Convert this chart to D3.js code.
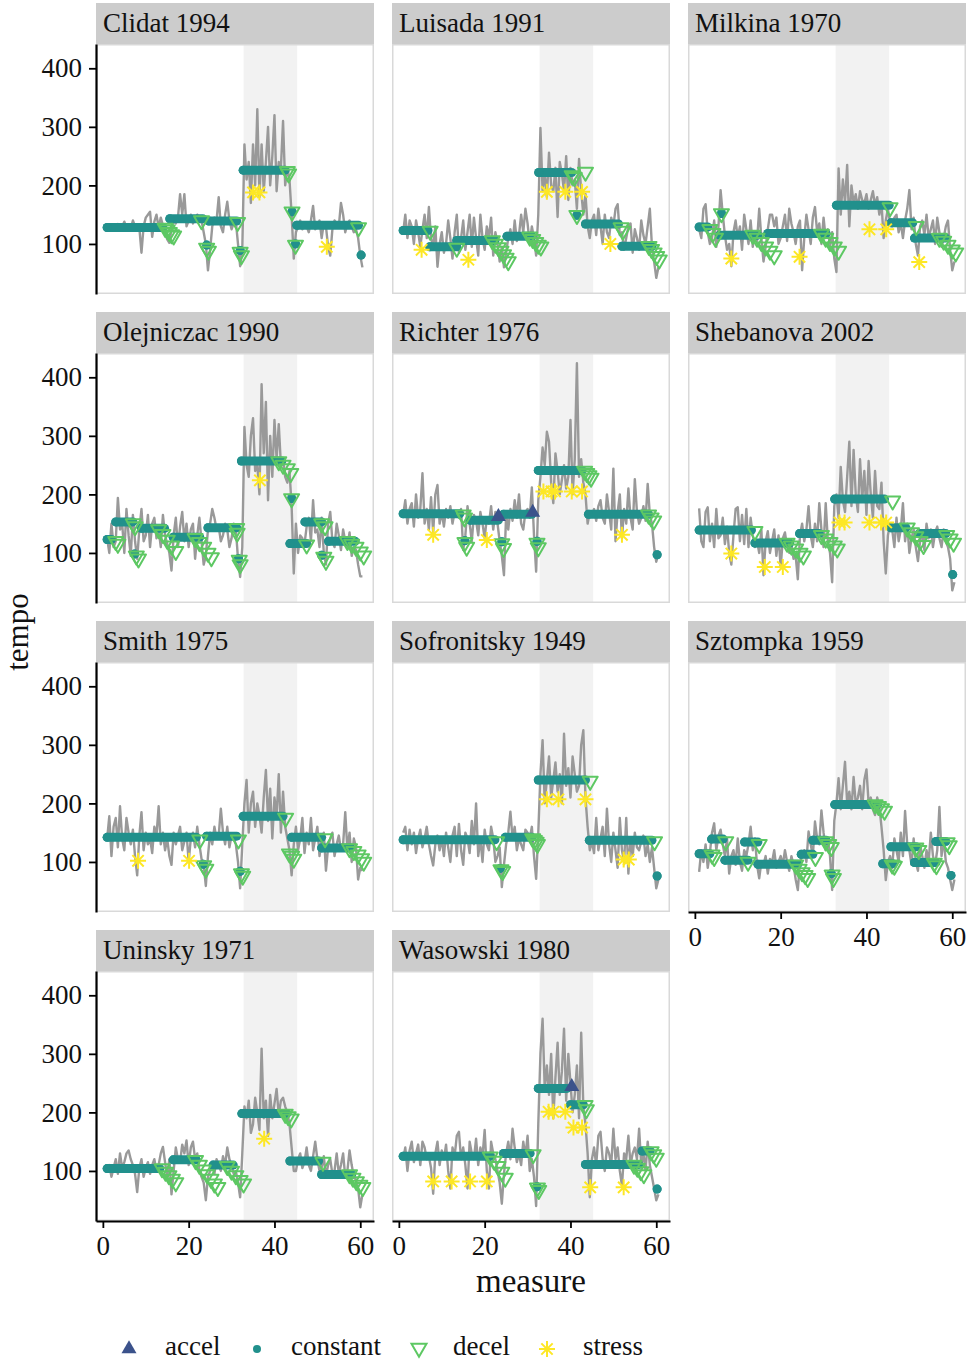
<!DOCTYPE html>
<html><head><meta charset="utf-8">
<script src="https://cdn.jsdelivr.net/npm/d3@7"></script>
<style>body{margin:0;background:#fff}svg{display:block}</style>
</head><body>
<svg id="c" width="970" height="1361"></svg>
<script>
// ---------- DATA ----------
const performers = ["Clidat 1994","Luisada 1991","Milkina 1970","Olejniczac 1990","Richter 1976","Shebanova 2002","Smith 1975","Sofronitsky 1949","Sztompka 1959","Uninsky 1971","Wasowski 1980"];
const stateLabels = ["accel","constant","decel","stress"];
const xTicks = [0,20,40,60];
const yTicks = [100,200,300,400];
const sectionBand = [32.8,45.3];
// note positions (measure), two per measure
const measures = d3.range(1, 60.75, 0.5);

// observed tempo, one array per performer (two values per measure, measures 1..60)
const tempoClidat = [128,130,126,132,128,134,125,130,138,128,132,126,140,130,125,128,85,130,145,150,
 155,112,138,150,128,145,132,118,108,102,125,140,135,145,185,150,185,130,140,150,
 135,142,150,138,140,120,100,55,90,130,145,140,180,130,120,150,172,140,125,135,
 138,100,62,90,270,210,240,170,270,200,330,180,270,190,240,300,200,250,320,190,
 240,230,310,200,230,210,150,75,120,130,140,125,135,130,120,140,165,125,130,140,
 110,135,130,95,80,125,140,135,130,170,150,120,135,140,130,120,125,110,80,60];
const tempoLuisada = [120,150,110,140,130,100,140,120,95,125,150,110,163,110,95,130,61,100,120,85,
 100,140,110,75,120,150,85,110,140,90,120,150,95,145,110,80,150,110,90,130,
 110,145,80,120,100,70,95,60,85,110,125,100,140,105,115,150,120,160,135,100,
 130,110,80,150,298,190,220,180,256,200,190,230,146,240,220,190,250,175,230,200,
 210,160,245,190,150,185,130,110,140,150,115,160,130,100,150,120,110,145,130,160,
 168,115,120,90,110,130,135,85,125,110,90,140,115,100,130,160,95,70,42,60];
const tempoMilkina = [125,110,160,168,120,100,110,140,95,130,192,150,115,90,100,62,120,140,110,130,
 90,150,125,100,140,95,120,105,160,110,70,95,125,150,150,130,145,100,110,130,
 150,105,160,135,120,100,130,140,55,110,150,125,100,145,163,120,135,100,145,110,
 125,95,120,75,52,229,150,210,170,235,130,200,170,185,160,190,175,170,185,160,
 175,190,165,180,150,170,110,140,160,135,130,145,150,120,135,110,140,160,192,125,
 145,100,80,130,140,115,150,110,125,140,100,145,120,95,110,130,140,90,55,70];
const tempoOlejniczac = [125,100,150,110,120,194,140,150,100,175,130,95,165,120,90,140,175,120,130,165,
 110,150,160,125,140,110,165,130,115,100,70,130,160,110,145,170,120,150,110,140,
 150,90,130,160,120,80,95,140,150,175,160,140,145,120,130,150,140,110,125,150,
 140,90,59,110,315,250,230,300,330,240,250,200,388,270,358,190,300,230,327,260,
 320,250,260,230,220,240,180,65,150,100,130,125,115,145,160,120,190,135,140,110,
 160,100,80,150,170,120,110,150,130,105,140,120,110,135,95,110,105,80,60,60];
const tempoRichter = [165,190,150,175,185,145,200,160,175,236,150,175,140,195,135,200,216,150,170,145,
 175,160,180,150,170,165,160,175,105,130,180,150,120,165,155,130,170,150,125,160,
 150,180,140,170,150,120,95,62,165,140,175,155,190,160,200,150,140,170,175,160,
 212,130,68,190,230,280,250,307,290,220,185,270,240,200,225,250,210,230,327,200,
 260,424,230,260,220,200,150,170,165,175,155,180,190,160,150,200,170,140,244,120,
 170,200,125,175,150,210,160,140,226,170,150,160,180,155,218,165,150,110,85,100];
const tempoShebanova = [176,120,110,170,178,120,150,110,175,125,130,160,115,145,100,80,130,175,178,120,
 165,115,175,110,160,130,110,120,100,140,62,120,137,100,120,140,95,130,75,125,
 135,110,100,115,90,95,55,130,150,120,140,180,130,110,150,120,185,140,110,185,
 120,100,50,180,200,160,247,190,170,230,290,180,276,200,170,260,190,240,165,257,
 200,160,240,180,175,220,120,65,130,150,140,110,160,120,140,185,120,150,100,125,
 140,110,86,120,135,105,150,125,140,110,135,145,125,110,140,120,110,90,36,50];
const tempoSmith = [140,178,110,160,175,125,195,140,120,175,150,130,155,110,77,145,185,120,150,130,
 140,115,160,145,195,130,150,120,140,110,95,150,130,145,160,120,135,150,100,140,
 150,125,160,130,105,95,59,110,150,130,160,140,145,191,150,130,160,125,145,140,
 130,100,55,130,200,240,150,200,220,160,200,180,150,210,257,170,225,140,210,180,
 250,150,220,160,140,120,77,130,160,120,140,175,115,150,130,175,120,140,160,110,
 140,150,85,125,140,150,110,130,145,120,130,185,120,150,100,140,125,70,90,85];
const tempoSofronitsky = [150,160,120,155,130,150,115,140,155,125,140,160,130,110,94,130,145,120,140,110,
 150,125,100,145,160,110,165,120,95,150,140,115,170,130,200,110,140,100,155,130,
 120,160,140,100,110,125,57,95,130,150,186,140,160,120,140,130,120,155,150,140,
 160,110,71,150,250,308,200,240,280,210,240,270,220,250,200,319,230,260,210,280,
 250,220,230,300,325,210,160,120,135,115,175,120,140,160,110,191,130,100,150,120,
 90,175,120,100,175,80,140,110,150,125,120,135,145,110,130,100,125,90,55,70];
const tempoSztompka = [83,120,100,130,90,115,150,166,120,145,155,130,110,140,80,110,120,95,140,100,
 85,120,110,130,160,120,140,95,72,100,95,110,80,105,100,120,90,100,110,95,
 120,100,85,110,95,70,52,100,110,120,100,152,130,110,169,140,130,188,150,120,
 140,110,52,170,200,243,190,230,271,200,220,190,245,200,210,230,190,240,258,200,
 210,190,180,210,195,160,120,69,100,110,90,140,120,100,150,110,187,130,120,95,
 140,100,85,130,110,90,120,100,150,110,95,120,194,110,140,100,90,70,52,70];
const tempoUninsky = [100,110,90,105,120,95,130,105,115,130,135,120,110,95,64,105,120,90,105,115,
 95,110,120,100,110,130,141,115,90,120,60,100,140,120,115,145,130,152,110,140,
 150,120,130,100,90,80,50,90,100,115,95,120,110,100,125,110,140,120,110,95,
 100,80,55,130,210,190,220,165,180,225,200,170,309,190,220,160,230,190,215,240,
 195,220,225,210,200,180,140,100,100,120,130,105,115,140,110,100,125,150,120,100,
 105,125,90,110,120,95,100,130,95,110,130,90,100,135,110,90,85,70,38,60];
const tempoWasowski = [120,140,100,135,150,115,130,145,110,150,140,120,125,105,61,130,150,110,135,120,
 145,100,70,140,125,160,167,120,140,110,70,150,130,120,155,110,140,125,170,100,
 70,150,130,120,100,80,44,95,130,150,120,172,140,115,130,110,150,125,160,100,
 120,90,40,180,300,360,240,280,230,300,190,260,319,230,270,343,220,300,250,200,
 230,280,190,336,210,180,130,55,120,140,110,160,167,120,100,140,130,110,172,120,
 140,100,75,130,120,160,110,130,140,120,172,110,130,100,150,110,90,70,50,60];
const tempoSeries = [tempoClidat,tempoLuisada,tempoMilkina,tempoOlejniczac,tempoRichter,tempoShebanova,tempoSmith,tempoSofronitsky,tempoSztompka,tempoUninsky,tempoWasowski];

// fitted states: [performer index, from measure, to measure, tempo]
const constantSegments = [
 [0,1,14,128],[0,15.6,23.3,143],[0,24.2,24.2,98],[0,24.7,31.2,139],[0,32,32,89],[0,32.7,42.5,226],[0,44.1,44.1,155],[0,44.9,44.9,100],[0,45.2,59.6,132],[0,60.2,60.2,81],
 [1,1,6.8,123],[1,7.2,13.5,95],[1,13.5,22.4,106],[1,25.2,31,113],[1,32.6,40.3,222],[1,41.5,41.5,149],[1,43.5,51.2,134],[1,52,59,96],
 [2,1,3,129],[2,6.2,6.2,152],[2,5.8,14.7,115],[2,17,30.6,118],[2,33,45.3,166],[2,45.7,50.8,136],[2,51.2,58.5,110],
 [3,1,2,123],[3,3,7,153],[3,7.4,7.4,98],[3,9,14.4,142],[3,16.4,22.6,127],[3,24.5,31.2,143],[3,31.6,31.6,90],[3,32.3,41.7,257],[3,44,44,193],[3,43.6,47.5,116],[3,47.1,51,153],[3,51,51,96],[3,52.6,58.8,120],
 [4,1,14.2,167],[4,15.4,15.4,121],[4,16.6,23.2,156],[4,24,24,119],[4,24.4,31,166],[4,32.2,32.2,120],[4,32.5,42.7,241],[4,44.2,58.2,166],[4,60.2,60.2,97],
 [5,1,13.2,139],[5,14,22.1,117],[5,24.4,29,133],[5,32.6,44.2,192],[5,45.7,49.2,143],[5,52.3,58.5,133],[5,60.1,60.1,63],
 [6,1,21.8,142],[6,23.4,23.4,96],[6,24.2,31.2,144],[6,32,32,84],[6,32.7,42,178],[6,44,51,142],[6,51,57.7,124],
 [7,1,22.4,138],[7,23.6,23.6,89],[7,24.8,31,142],[7,32.5,43.5,240],[7,44.4,59,137],[7,60.2,60.2,76],
 [8,1,3.5,114],[8,3.9,6.6,139],[8,7,12.4,103],[8,11.6,14.7,134],[8,14.7,24,96],[8,24.8,27.5,113],[8,27.5,30.6,137],[8,31.8,31.8,80],[8,32.6,42.6,198],[8,43.8,46.1,97],[8,45.7,51.6,126],[8,51.2,56.2,99],[8,56.2,58.5,135],[8,59.7,59.7,77],
 [9,1,13.3,104],[9,16.4,21.8,119],[9,25.7,30.4,110],[9,32.4,42.9,198],[9,43.6,50.3,117],[9,51,58,94],
 [10,1,21.3,125],[10,24.4,30.6,130],[10,32.2,32.2,73],[10,32.5,39.2,241],[10,40,43,213],[10,43.5,55.9,111],[10,56.7,58.6,134],[10,60.2,60.2,69]
];
// [performer index, measure, tempo]
const decelPoints = [
 [0,14.5,127],[0,15,124],[0,15.5,120],[0,16,116],[0,16.5,114],[0,23,140],[0,24.2,93],[0,24.6,88],[0,31.4,137],[0,32,86],[0,32.3,80],[0,43,224],[0,43.3,220],[0,44.1,155],[0,44.9,98],[0,59.6,128],
 [1,7.3,122],[1,13.5,93],[1,21.8,106],[1,22.5,100],[1,23.2,94],[1,23.8,88],[1,24.4,82],[1,25,76],[1,25.5,70],[1,30.5,112],[1,31.2,108],[1,31.9,103],[1,32.5,98],[1,33.1,95],[1,40.4,217],[1,40.9,214],[1,43.5,223],[1,41.5,149],[1,51.8,128],[1,52.2,122],[1,58.3,96],[1,58.9,91],[1,59.5,85],[1,60.1,79],[1,60.7,73],
 [2,3.5,125],[2,4.2,118],[2,4.8,110],[2,6.2,152],[2,13.5,115],[2,14.5,110],[2,15.5,103],[2,16.5,95],[2,17.5,88],[2,18.5,80],[2,29.5,117],[2,30.5,110],[2,31.5,103],[2,32.5,95],[2,33.5,88],[2,45.5,162],[2,51.6,130],[2,57,110],[2,58,105],[2,59,98],[2,60,90],[2,60.8,85],
 [3,3,120],[3,3.5,115],[3,7.1,150],[3,7.5,145],[3,7.8,95],[3,8.3,90],[3,13,140],[3,14,132],[3,15,122],[3,16,112],[3,17,103],[3,21.5,125],[3,22.5,118],[3,23.5,110],[3,24.5,100],[3,25.3,92],[3,31.2,142],[3,31.3,134],[3,31.8,88],[3,32,80],[3,41,256],[3,42,250],[3,43,244],[3,43.8,236],[3,44,193],[3,47.5,114],[3,51,150],[3,51.8,145],[3,51.5,93],[3,52,86],[3,57,120],[3,58,115],[3,59,110],[3,60,102],[3,60.8,95],
 [4,15,165],[4,15.3,160],[4,15.4,118],[4,15.8,110],[4,24,116],[4,24.4,108],[4,32.2,117],[4,32.5,109],[4,43.3,240],[4,43.8,236],[4,44.3,232],[4,44.8,228],[4,58.2,165],[4,58.8,160],[4,59.4,155],
 [5,14,137],[5,21.5,117],[5,22.5,112],[5,23.5,107],[5,24.5,100],[5,25.3,95],[5,29.5,130],[5,30.5,124],[5,31.5,118],[5,32.5,112],[5,33.2,107],[5,46.1,189],[5,49.5,143],[5,50.5,135],[5,51.5,128],[5,52.5,120],[5,53.3,113],[5,58.7,130],[5,59.5,124],[5,60.3,117],
 [6,22.6,138],[6,23.5,94],[6,24,88],[6,31.6,138],[6,32.3,80],[6,32.6,76],[6,42.6,175],[6,43.5,114],[6,44,110],[6,44.5,105],[6,51.8,140],[6,57.5,123],[6,58.5,118],[6,59.5,112],[6,60.3,106],[6,60.8,100],
 [7,22.8,135],[7,23.8,87],[7,24.2,84],[7,31.2,140],[7,31.6,137],[7,32,134],[7,32.3,130],[7,44.6,238],[7,59.6,135],
 [8,4,112],[8,4.5,108],[8,7.2,135],[8,12.4,100],[8,15,130],[8,23.5,95],[8,24.3,88],[8,25,82],[8,25.7,77],[8,26.3,72],[8,28.1,108],[8,30.5,135],[8,31.2,130],[8,31.8,125],[8,32,78],[8,32.3,72],[8,42,198],[8,42.8,195],[8,43.5,191],[8,44.2,187],[8,46,95],[8,46.5,93],[8,51.5,124],[8,52.2,120],[8,55.8,98],[8,56.3,94],[8,58.8,133],[8,59.3,128],
 [9,13.8,104],[9,14.6,98],[9,15.4,92],[9,16.2,86],[9,17,80],[9,21.6,118],[9,22.5,110],[9,23.4,102],[9,24.3,94],[9,25.2,86],[9,26,78],[9,26.8,72],[9,29,108],[9,30,100],[9,31,92],[9,32,84],[9,32.8,78],[9,42.5,197],[9,43.2,193],[9,43.9,189],[9,51.3,115],[9,57.5,94],[9,58.3,88],[9,59.1,82],[9,59.9,76],[9,60.6,72],
 [10,21.3,124],[10,22.2,117],[10,23.1,108],[10,24,98],[10,24.8,88],[10,31.3,128],[10,32.3,71],[10,32.6,67],[10,43.4,212],[10,43.7,205],[10,54.8,110],[10,55.6,105],[10,56.4,99],[10,57.1,94],[10,58.8,133],[10,59.4,128],[10,60,122]
];
const accelPoints = [[4,23.2,162],[4,31.2,169],[10,40.3,244]];
const stressPoints = [
 [0,35,188],[0,36.5,188],[0,52.2,95],
 [1,5.3,90],[1,16.2,73],[1,34.5,189],[1,38.8,189],[1,42.7,189],[1,49.3,100],
 [2,8.5,75],[2,24.4,78],[2,40.7,125],[2,44.6,125],[2,52.3,69],
 [3,36.6,224],
 [4,8,131],[4,20.5,122],[4,33.7,205],[4,35.6,205],[4,36.4,205],[4,40.3,205],[4,42.7,205],[4,52,131],
 [5,8.5,99],[5,16.3,76],[5,20.5,76],[5,33.7,152],[5,34.9,152],[5,40.7,152],[5,43.4,152],[5,44.6,152],
 [6,8.2,102],[6,20.1,102],
 [7,34.5,207],[7,37.2,207],[7,43.5,207],[7,52.4,104],[7,53.6,104],
 [9,37.6,155],
 [10,8,82],[10,12.3,82],[10,16.6,82],[10,20.5,82],[10,34.9,201],[10,36,201],[10,38.8,201],[10,40.7,174],[10,42.7,174],[10,44.6,72],[10,52.4,72]
];

// ---------- DRAW ----------
const colors = {accel:"#3B528B", constant:"#21908C", decel:"#5DC863", stress:"#FDE725"};
const FONT = "'Liberation Serif','Times New Roman',serif";
const PW = 278, PH = 250, STRIP = 41;
const colX = [96, 392, 688];
const rowY = [44, 353, 662, 971];
const x = d3.scaleLinear().domain([-1.6, 63.2]).range([0, PW]);
const y = d3.scaleLinear().domain([14.5, 441.5]).range([PH, 0]);

const triDown = "M-7.5,-4.3L7.5,-4.3L0,8.7Z";
const triUp = "M-7.5,4.3L7.5,4.3L0,-8.7Z";
const star = "M-8,0H8M0,-8V8M-5.66,-5.66L5.66,5.66M-5.66,5.66L5.66,-5.66";

const svg = d3.select("#c");
svg.append("rect").attr("width",970).attr("height",1361).attr("fill","#fff");

const line = d3.line().x((d,j)=>x(measures[j])).y(d=>y(d));

performers.forEach((name, i) => {
  const col = i % 3, row = Math.floor(i / 3);
  const g = svg.append("g").attr("transform", `translate(${colX[col]},${rowY[row]})`);
  // strip
  g.append("rect").attr("x",0).attr("y",-STRIP).attr("width",PW).attr("height",STRIP).attr("fill","#cccccc");
  g.append("text").attr("x",7).attr("y",-12).attr("font-family",FONT).attr("font-size",27).attr("fill","#111").text(name);
  // panel
  g.append("rect").attr("width",PW).attr("height",PH).attr("fill","#fff");
  g.append("rect").attr("x",x(sectionBand[0])).attr("width",x(sectionBand[1])-x(sectionBand[0])).attr("height",PH).attr("fill","#f2f2f2");
  g.append("rect").attr("x",0.75).attr("y",0.75).attr("width",PW-1.5).attr("height",PH-1.5).attr("fill","none").attr("stroke","#d9d9d9").attr("stroke-width",1.5);
  // observed tempo
  g.append("path").datum(tempoSeries[i]).attr("d",line).attr("fill","none")
    .attr("stroke","#999999").attr("stroke-width",2.4).attr("stroke-linejoin","round");
  // constant
  const cs = constantSegments.filter(d=>d[0]===i);
  g.selectAll(".cl").data(cs).join("line")
    .attr("x1",d=>x(d[1])).attr("x2",d=>x(d[2])).attr("y1",d=>y(d[3])).attr("y2",d=>y(d[3]))
    .attr("stroke",colors.constant).attr("stroke-width",9).attr("stroke-linecap","round");
  g.selectAll(".cd").data(cs).join("circle")
    .attr("cx",d=>x(d[1])).attr("cy",d=>y(d[3])).attr("r",4.5).attr("fill",colors.constant);
  // decel
  g.selectAll(".de").data(decelPoints.filter(d=>d[0]===i)).join("path")
    .attr("d",triDown).attr("transform",d=>`translate(${x(d[1])},${y(d[2])})`)
    .attr("fill","none").attr("stroke",colors.decel).attr("stroke-width",2).attr("stroke-linejoin","round");
  // accel
  g.selectAll(".ac").data(accelPoints.filter(d=>d[0]===i)).join("path")
    .attr("d",triUp).attr("transform",d=>`translate(${x(d[1])},${y(d[2])})`)
    .attr("fill",colors.accel);
  // stress
  g.selectAll(".st").data(stressPoints.filter(d=>d[0]===i)).join("path")
    .attr("d",star).attr("transform",d=>`translate(${x(d[1])},${y(d[2])})`)
    .attr("fill","none").attr("stroke",colors.stress).attr("stroke-width",2);

  // axes
  if (col === 0) {
    const ax = g.append("g").call(d3.axisLeft(y).tickValues(yTicks).tickSize(7).tickSizeOuter(0).tickPadding(7));
    styleAxis(ax);
  }
  const lastInCol = (i + 3 >= performers.length);
  if (lastInCol) {
    const ax = g.append("g").attr("transform",`translate(0,${PH})`)
      .call(d3.axisBottom(x).tickValues(xTicks).tickSize(7).tickSizeOuter(0).tickPadding(8));
    styleAxis(ax);
  }
});

function styleAxis(ax){
  ax.attr("font-family",FONT).attr("font-size",27);
  ax.select(".domain").attr("stroke","#000").attr("stroke-width",2.2);
  ax.selectAll(".tick line").attr("stroke","#000").attr("stroke-width",1.8);
  ax.selectAll(".tick text").attr("font-family",FONT).attr("font-size",27).attr("fill","#111");
}

// axis titles
svg.append("text").attr("x",531).attr("y",1292).attr("text-anchor","middle")
  .attr("font-family",FONT).attr("font-size",33).attr("fill","#111").text("measure");
svg.append("text").attr("transform","translate(28,632) rotate(-90)").attr("text-anchor","middle")
  .attr("font-family",FONT).attr("font-size",31).attr("fill","#111").text("tempo");

// legend
const legendItems = [
  {k:"accel", gx:129, tx:165},
  {k:"constant", gx:257, tx:291},
  {k:"decel", gx:419, tx:453},
  {k:"stress", gx:547, tx:583}
];
const lg = svg.append("g");
legendItems.forEach(it => {
  const gy = 1349;
  if (it.k==="accel") lg.append("path").attr("d",triUp).attr("transform",`translate(${it.gx},${gy})`).attr("fill",colors.accel);
  if (it.k==="constant") lg.append("circle").attr("cx",it.gx).attr("cy",gy).attr("r",4).attr("fill",colors.constant);
  if (it.k==="decel") lg.append("path").attr("d",triDown).attr("transform",`translate(${it.gx},${gy-1})`).attr("fill","none").attr("stroke",colors.decel).attr("stroke-width",2);
  if (it.k==="stress") lg.append("path").attr("d",star).attr("transform",`translate(${it.gx},${gy})`).attr("fill","none").attr("stroke",colors.stress).attr("stroke-width",2);
  lg.append("text").attr("x",it.tx).attr("y",1355).attr("font-family",FONT).attr("font-size",27).attr("fill","#111").text(stateLabels[stateLabels.indexOf(it.k)]);
});
</script>
</body></html>
